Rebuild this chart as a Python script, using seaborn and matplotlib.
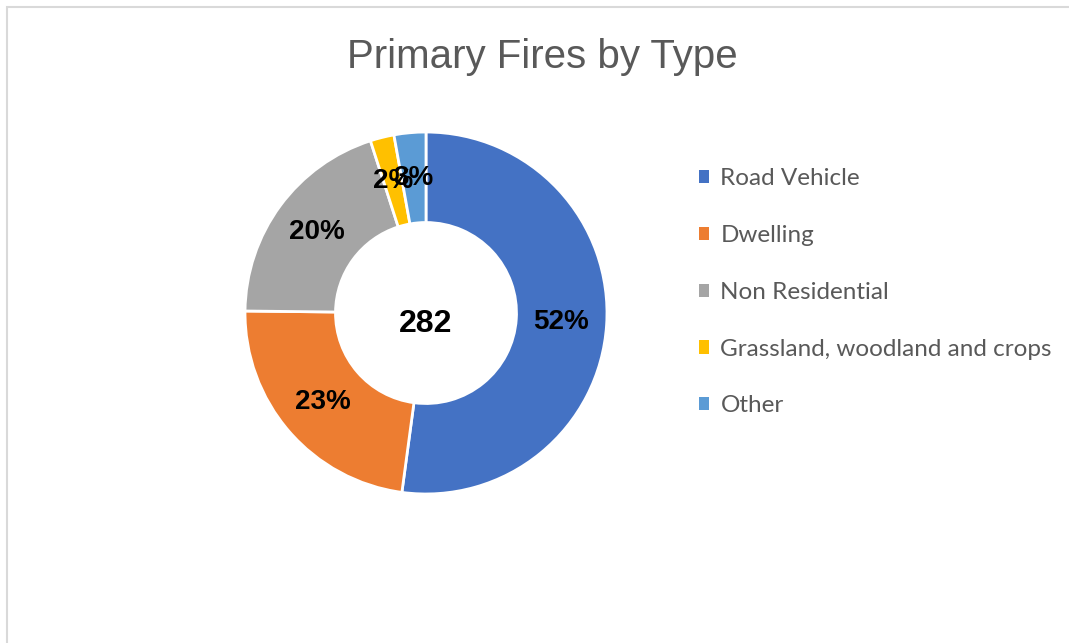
import matplotlib
matplotlib.use("Agg")
import matplotlib.pyplot as plt
import seaborn as sns
from matplotlib.patches import Rectangle

categories = ["Road Vehicle", "Dwelling", "Non Residential",
              "Grassland, woodland and crops", "Other"]
counts = [147, 65, 56, 6, 8]
colors = ["#4472C4", "#ED7D31", "#A5A5A5", "#FFC000", "#5B9BD5"]
title = "Primary Fires by Type"

sns.set_theme(style="white")
plt.rcParams['font.family'] = ['Liberation Sans', 'DejaVu Sans']

fig = plt.figure(figsize=(10.69, 6.43), dpi=100)
fig.patch.set_facecolor("white")

# light frame like the source screenshot
fig.patches.append(Rectangle((7 / 1069, -0.1), 1.2, (643 - 7) / 643 + 0.1,
                             transform=fig.transFigure, fill=False,
                             edgecolor="#D9D9D9", linewidth=1.5))

ax = fig.add_axes([0.2292, 0.2317, 0.3386, 0.563])
wedges, texts, autotexts = ax.pie(
    counts, colors=colors, startangle=90, counterclock=False,
    autopct='%1.0f%%', pctdistance=0.75,
    wedgeprops=dict(width=0.5, edgecolor="white", linewidth=2),
    textprops=dict(fontsize=20, fontweight="bold", color="black"))
ax.set_xlim(-1, 1)
ax.set_ylim(-1, 1)
ax.set_aspect("equal")

ax.text(0, -0.06, str(sum(counts)), ha="center", va="center",
        fontsize=23, fontweight="bold", color="black")

fig.text(0.507, 0.912, title, ha="center", va="center",
         fontsize=29, color="#595959")

leg = fig.legend(wedges, categories, loc="upper left",
                 bbox_to_anchor=(0.633, 0.772), frameon=False,
                 handlelength=0.45, handleheight=0.45,
                 handletextpad=0.45, labelspacing=1.47,
                 prop={'family': ['Lato', 'DejaVu Sans'], 'size': 17.5})
for t in leg.get_texts():
    t.set_color("#595959")
for h in leg.legend_handles:
    h.set_edgecolor("none")

fig.savefig("out.png", dpi=100, facecolor="white")
